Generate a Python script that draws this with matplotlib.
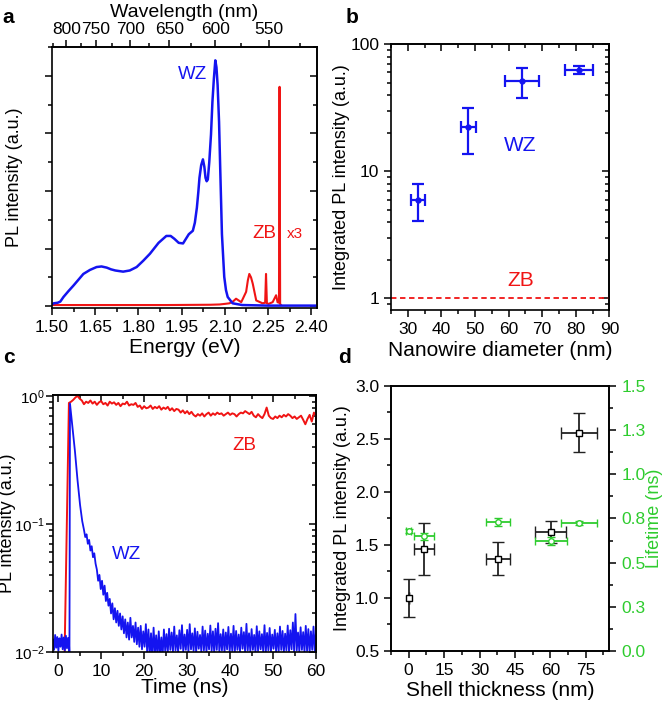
import numpy as np
import matplotlib
matplotlib.use('Agg')
import matplotlib.pyplot as plt
from matplotlib.ticker import FixedLocator, MultipleLocator, LogLocator, NullFormatter, FixedFormatter

plt.rcParams['font.family'] = ['Liberation Sans', 'DejaVu Sans']
plt.rcParams['font.size'] = 12.5
plt.rcParams['axes.linewidth'] = 1.2
plt.rcParams['mathtext.fontset'] = 'custom'
plt.rcParams['mathtext.rm'] = 'Liberation Sans'
plt.rcParams['mathtext.it'] = 'Liberation Sans:italic'
plt.rcParams['mathtext.bf'] = 'Liberation Sans:bold'

BLUE = '#1414f0'
RED = '#f01414'
GREEN = '#2ecc2e'
XL = 15     # horizontal axis labels (the original is a bit stretched sideways)
YL = 13     # vertical axis labels

# ---- panel a: PL spectra ----
wz_energy = [1.500, 1.506, 1.520, 1.529, 1.540, 1.557, 1.575, 1.592, 1.609, 1.632,
             1.655, 1.672, 1.690, 1.705, 1.720, 1.747, 1.770, 1.794, 1.817, 1.840,
             1.870, 1.897, 1.912, 1.925, 1.940, 1.955, 1.965, 1.975, 1.989, 1.996,
             2.003, 2.008, 2.012, 2.018, 2.024, 2.029, 2.033, 2.037, 2.041, 2.046,
             2.052, 2.057, 2.062, 2.067, 2.071, 2.075, 2.080, 2.084, 2.090, 2.098,
             2.104, 2.110, 2.127, 2.160, 2.250, 2.420]
wz_spec = [0.03, 0.05, 0.06, 0.08, 0.16, 0.26, 0.36, 0.46, 0.56, 0.63,
           0.68, 0.69, 0.67, 0.64, 0.62, 0.60, 0.62, 0.68, 0.79, 0.91,
           1.10, 1.22, 1.22, 1.17, 1.10, 1.09, 1.17, 1.25, 1.31, 1.45,
           1.71, 1.98, 2.23, 2.45, 2.55, 2.42, 2.23, 2.17, 2.20, 2.50,
           2.98, 3.55, 3.95, 4.27, 4.15, 3.84, 3.20, 2.40, 1.25, 0.51,
           0.28, 0.16, 0.05, 0.02, 0.01, 0.01]
zb_energy = [1.500, 1.700, 1.900, 2.050, 2.082, 2.100, 2.116, 2.128, 2.139, 2.157,
             2.174, 2.180, 2.185, 2.191, 2.197, 2.209, 2.231, 2.240, 2.243, 2.246,
             2.252, 2.266, 2.278, 2.283, 2.288, 2.290, 2.292, 2.295]
zb_spec = [0.02, 0.02, 0.02, 0.025, 0.03, 0.04, 0.05, 0.08, 0.13, 0.07,
           0.25, 0.45, 0.56, 0.50, 0.39, 0.10, 0.05, 0.06, 0.56, 0.05,
           0.04, 0.07, 0.19, 0.07, 0.06, 3.81, 0.04, 0.02]

# ---- panel b: integrated PL vs diameter ----
diameter = [33, 48, 64, 81]
diameter_err = [2.1, 2.2, 5.2, 4.1]
int_wz = [6.0, 22.5, 51.5, 63.0]
int_wz_err = [1.9, 8.8, 13.4, 4.8]
zb_level = 1.0

# ---- panel c: time resolved PL ----
wz_t_head = [-1.2, -0.95, -0.7, -0.45, -0.2, 0.05, 0.3, 0.55, 0.8, 1.05,
             1.3, 1.55, 1.8, 2.05, 2.3, 2.55, 2.62, 2.75, 3.3, 3.9, 4.5, 5.1, 5.6]
wz_I_head = [0.0125, 0.0104, 0.0136, 0.0108, 0.0131, 0.0102, 0.0128, 0.0110, 0.0137, 0.0105,
             0.0130, 0.0103, 0.0134, 0.0107, 0.0129, 0.0110, 0.009, 0.87, 0.58, 0.37, 0.22, 0.14, 0.105]
wz_t_tail = np.arange(6.0, 60.01, 0.3)
wz_I_tail = [0.090, 0.079, 0.083, 0.070, 0.075, 0.062, 0.067, 0.055, 0.059, 0.049,
             0.044, 0.036, 0.040, 0.031, 0.036, 0.028, 0.033, 0.025, 0.029, 0.023,
             0.026, 0.020, 0.024, 0.018, 0.022, 0.017, 0.021, 0.016, 0.020, 0.015,
             0.019, 0.014, 0.018, 0.013, 0.017, 0.0125, 0.0185, 0.013, 0.016, 0.012,
             0.017, 0.0115, 0.0155, 0.011, 0.016, 0.0105, 0.0145, 0.011, 0.0165, 0.010,
             0.015, 0.0095, 0.014, 0.009, 0.0155, 0.0098, 0.0135, 0.0092, 0.0145, 0.0096,
             0.013, 0.0093, 0.015, 0.0102, 0.0138, 0.0099, 0.0152, 0.0104, 0.0142, 0.0101,
             0.0158, 0.0103, 0.0135, 0.0100, 0.0148, 0.0106, 0.0162, 0.0101, 0.0137, 0.0104,
             0.0149, 0.0100, 0.0165, 0.0105, 0.0140, 0.0102, 0.0153, 0.0099, 0.0144, 0.0106,
             0.0136, 0.0101, 0.0158, 0.0103, 0.0147, 0.0100, 0.0139, 0.0105, 0.0161, 0.0102,
             0.0145, 0.0099, 0.0152, 0.0104, 0.0168, 0.0101, 0.0138, 0.0103, 0.0150, 0.0100,
             0.0142, 0.0105, 0.0157, 0.0101, 0.0139, 0.0102, 0.0160, 0.0100, 0.0146, 0.0104,
             0.0137, 0.0101, 0.0155, 0.0106, 0.0143, 0.0099, 0.0166, 0.0103, 0.0140, 0.0101,
             0.0151, 0.0104, 0.0136, 0.0100, 0.0159, 0.0102, 0.0145, 0.0105, 0.0138, 0.0101,
             0.0162, 0.0100, 0.0141, 0.0103, 0.0154, 0.0101, 0.0137, 0.0106, 0.0149, 0.0100,
             0.0140, 0.0102, 0.0158, 0.0104, 0.0146, 0.0100, 0.0139, 0.0103, 0.0161, 0.0101,
             0.0148, 0.0105, 0.0170, 0.0100, 0.0198, 0.0103, 0.0142, 0.0101, 0.0156, 0.0104,
             0.0143, 0.0100, 0.0160, 0.0102, 0.0151, 0.0099, 0.0145, 0.0104, 0.0158, 0.0101,
             0.0147]
zb_t_head = [1.2, 1.5, 2.5]
zb_I_head = [0.005, 0.01, 0.88]
zb_t_tail = np.arange(3.0, 60.01, 0.5)
zb_I_tail = [0.90, 0.93, 0.97, 1.00, 0.95, 0.92, 0.86, 0.90, 0.88, 0.92,
             0.87, 0.90, 0.85, 0.89, 0.91, 0.86, 0.88, 0.84, 0.90, 0.87,
             0.89, 0.85, 0.88, 0.83, 0.87, 0.86, 0.90, 0.84, 0.86, 0.85,
             0.88, 0.82, 0.84, 0.79, 0.83, 0.80, 0.81, 0.84, 0.79, 0.82,
             0.80, 0.83, 0.78, 0.81, 0.79, 0.82, 0.77, 0.80, 0.76, 0.79,
             0.78, 0.74, 0.77, 0.73, 0.76, 0.72, 0.75, 0.71, 0.69, 0.72,
             0.70, 0.73, 0.69, 0.72, 0.74, 0.70, 0.73, 0.71, 0.74, 0.72,
             0.73, 0.70, 0.72, 0.74, 0.71, 0.73, 0.72, 0.69, 0.72, 0.74,
             0.73, 0.76, 0.74, 0.72, 0.75, 0.70, 0.68, 0.72, 0.69, 0.67,
             0.72, 0.81, 0.70, 0.67, 0.66, 0.69, 0.67, 0.70, 0.68, 0.71,
             0.69, 0.72, 0.70, 0.67, 0.69, 0.66, 0.68, 0.70, 0.65, 0.60,
             0.66, 0.71, 0.63, 0.74, 0.70]

# ---- panel d: shell thickness ----
shell = [0, 6.5, 37.8, 60.1, 72.1]
shell_err = [0, 4.2, 5.1, 6.6, 7.8]
int_shell = [1.00, 1.46, 1.37, 1.62, 2.56]
int_shell_err = [0.18, 0.245, 0.155, 0.105, 0.185]
life_shell_err = [1.0, 4.4, 5.1, 6.8, 7.8]
lifetime = [0.680, 0.650, 0.729, 0.623, 0.722]
lifetime_err = [0.011, 0.02, 0.023, 0.023, 0.011]


def mirror_in(ax):
    # right/top ticks pointing inward, as in the original software
    r = ax.secondary_yaxis('right')
    t = ax.secondary_xaxis('top')
    for a in (r, t):
        a.tick_params(which='both', direction='in', labelright=False, labeltop=False, width=1.1)
        a.tick_params(which='major', length=5)
        a.tick_params(which='minor', length=3)
    return r, t


def style(ax):
    ax.tick_params(which='both', direction='out', top=False, right=False, width=1.1)
    ax.tick_params(which='major', length=5)
    ax.tick_params(which='minor', length=3)


fig = plt.figure(figsize=(6.66, 7.03), dpi=100)
ax_a = fig.add_axes([0.078, 0.562, 0.398, 0.371])
ax_b = fig.add_axes([0.587, 0.559, 0.328, 0.378])
ax_c = fig.add_axes([0.0796, 0.0725, 0.395, 0.366])
ax_d = fig.add_axes([0.587, 0.074, 0.328, 0.377])

# a
ax_a.plot(zb_energy, zb_spec, color=RED, lw=1.5)
ax_a.plot(wz_energy, wz_spec, color=BLUE, lw=1.8)
ax_a.set_xlim(1.50, 2.42)
ax_a.set_ylim(-0.03, 4.5)
ax_a.xaxis.set_major_locator(FixedLocator([1.50, 1.65, 1.80, 1.95, 2.10, 2.25, 2.40]))
ax_a.xaxis.set_minor_locator(MultipleLocator(0.075))
ax_a.xaxis.set_major_formatter(FixedFormatter(['1.50', '1.65', '1.80', '1.95', '2.10', '2.25', '2.40']))
ax_a.yaxis.set_major_locator(MultipleLocator(1))
ax_a.yaxis.set_minor_locator(MultipleLocator(0.5))
style(ax_a)
ax_a.tick_params(axis='y', labelleft=False)
ra = ax_a.secondary_yaxis('right')
ra.tick_params(which='both', direction='in', labelright=False, width=1.1)
ra.tick_params(which='major', length=5)
ra.tick_params(which='minor', length=3)
ra.yaxis.set_major_locator(MultipleLocator(1))
ra.yaxis.set_minor_locator(MultipleLocator(0.5))


def e2nm(x):
    x = np.asarray(x, float)
    with np.errstate(divide='ignore', invalid='ignore'):
        return 1239.84 / x


ta = ax_a.secondary_xaxis('top', functions=(e2nm, e2nm))
ta.xaxis.set_major_locator(FixedLocator([800, 750, 700, 650, 600, 550]))
ta.xaxis.set_minor_locator(FixedLocator([825, 775, 725, 675, 625, 575, 525]))
ta.tick_params(which='both', direction='out', width=1.1)
ta.tick_params(which='major', length=5, pad=2)
ta.tick_params(which='minor', length=3)
ta.set_xlabel('Wavelength (nm)', fontsize=XL - 1, labelpad=4)
ax_a.set_xlabel('Energy (eV)', fontsize=XL)
ax_a.set_ylabel('PL intensity (a.u.)', fontsize=YL)
ax_a.yaxis.set_label_coords(-0.11, 0.5)
ax_a.xaxis.set_label_coords(0.5, -0.115)
ax_a.text(1.988, 4.03, 'WZ', color=BLUE, fontsize=13.5, ha='center', va='center')
ax_a.text(2.237, 1.26, 'ZB', color=RED, fontsize=13.5, ha='center', va='center')
ax_a.text(2.344, 1.26, 'x3', color=RED, fontsize=11, ha='center', va='center')

# b
ax_b.errorbar(diameter, int_wz, xerr=diameter_err, yerr=int_wz_err, fmt='o', ms=3.5,
              color=BLUE, ecolor=BLUE, elinewidth=1.6, capsize=4, capthick=1.6)
ax_b.axhline(zb_level, color=RED, ls=(0, (3, 2)), lw=1.3)
ax_b.set_yscale('log')
ax_b.set_xlim(25, 90)
ax_b.set_ylim(0.81, 100)
ax_b.xaxis.set_major_locator(MultipleLocator(10))
ax_b.xaxis.set_minor_locator(MultipleLocator(5))
ax_b.yaxis.set_major_locator(FixedLocator([1, 10, 100]))
ax_b.yaxis.set_major_formatter(FixedFormatter(['1', '10', '100']))
ax_b.yaxis.set_minor_locator(LogLocator(subs=np.arange(2, 10)))
ax_b.yaxis.set_minor_formatter(NullFormatter())
style(ax_b)
rb, tb = mirror_in(ax_b)
rb.yaxis.set_major_locator(FixedLocator([1, 10, 100]))
rb.yaxis.set_minor_locator(LogLocator(subs=np.arange(2, 10)))
rb.yaxis.set_minor_formatter(NullFormatter())
tb.xaxis.set_major_locator(MultipleLocator(10))
tb.xaxis.set_minor_locator(MultipleLocator(5))
ax_b.set_xlabel('Nanowire diameter (nm)', fontsize=XL)
ax_b.set_ylabel('Integrated PL intensity (a.u.)', fontsize=YL)
ax_b.yaxis.set_label_coords(-0.186, 0.5)
ax_b.xaxis.set_label_coords(0.5, -0.115)
ax_b.text(63.5, 15.9, 'WZ', color=BLUE, fontsize=15, ha='center', va='center')
ax_b.text(63.6, 1.39, 'ZB', color=RED, fontsize=15, ha='center', va='center')

# c
ax_c.plot(zb_t_head + list(zb_t_tail), zb_I_head + zb_I_tail, color=RED, lw=1.4)
ax_c.plot(wz_t_head + list(wz_t_tail), wz_I_head + wz_I_tail, color=BLUE, lw=1.3)
ax_c.set_yscale('log')
ax_c.set_xlim(-1.2, 60)
ax_c.set_ylim(0.01, 1.02)
ax_c.xaxis.set_major_locator(MultipleLocator(10))
ax_c.xaxis.set_minor_locator(MultipleLocator(5))
ax_c.yaxis.set_major_locator(FixedLocator([0.01, 0.1, 1]))
ax_c.yaxis.set_major_formatter(FixedFormatter([r'$10^{-2}$', r'$10^{-1}$', r'$10^{0}$']))
ax_c.yaxis.set_minor_locator(LogLocator(subs=np.arange(2, 10)))
ax_c.yaxis.set_minor_formatter(NullFormatter())
style(ax_c)
ax_c.tick_params(axis='y', labelsize=11, pad=1)
rc, tc = mirror_in(ax_c)
rc.yaxis.set_major_locator(FixedLocator([0.01, 0.1, 1]))
rc.yaxis.set_minor_locator(LogLocator(subs=np.arange(2, 10)))
rc.yaxis.set_minor_formatter(NullFormatter())
tc.xaxis.set_major_locator(MultipleLocator(10))
tc.xaxis.set_minor_locator(MultipleLocator(5))
ax_c.set_xlabel('Time (ns)', fontsize=XL)
ax_c.set_ylabel('PL intensity (a.u.)', fontsize=YL)
ax_c.yaxis.set_label_coords(-0.142, 0.5)
ax_c.xaxis.set_label_coords(0.5, -0.1)
ax_c.text(43.4, 0.41, 'ZB', color=RED, fontsize=13.5, ha='center', va='center')
ax_c.text(15.8, 0.058, 'WZ', color=BLUE, fontsize=13.5, ha='center', va='center')

# d
ax_d.errorbar(shell, int_shell, xerr=shell_err, yerr=int_shell_err, fmt='s', ms=4,
              mfc='white', mec='black', mew=1.0, color='black', ecolor='#222222',
              elinewidth=1.3, capsize=4, capthick=1.3)
ax_d.set_xlim(-7.5, 85)
ax_d.set_ylim(0.5, 3.0)
ax_d.xaxis.set_major_locator(MultipleLocator(15))
ax_d.xaxis.set_minor_locator(MultipleLocator(7.5))
ax_d.set_yticks([0.5, 1.0, 1.5, 2.0, 2.5, 3.0])
ax_d.set_yticklabels(['0.5', '1.0', '1.5', '2.0', '2.5', '3.0'])
ax_d.yaxis.set_minor_locator(MultipleLocator(0.25))
style(ax_d)
ax_d2 = ax_d.twinx()
ax_d2.errorbar(shell, lifetime, xerr=life_shell_err, yerr=lifetime_err, fmt='o', ms=4,
               mfc='white', mec=GREEN, mew=1.0, color=GREEN, ecolor=GREEN,
               elinewidth=1.3, capsize=3, capthick=1.3)
ax_d2.set_ylim(0.0, 1.5)
ax_d2.set_yticks([0.0, 0.25, 0.5, 0.75, 1.0, 1.25, 1.5])
ax_d2.set_yticklabels(['0.0', '0.3', '0.5', '0.8', '1.0', '1.3', '1.5'])
ax_d2.yaxis.set_minor_locator(MultipleLocator(0.125))
ax_d2.tick_params(which='both', direction='out', width=1.1, labelcolor=GREEN)
ax_d2.tick_params(which='major', length=5)
ax_d2.tick_params(which='minor', length=3)
ax_d.set_xlabel('Shell thickness (nm)', fontsize=XL)
ax_d.set_ylabel('Integrated PL intensity (a.u.)', fontsize=YL)
ax_d.yaxis.set_label_coords(-0.182, 0.5)
ax_d.xaxis.set_label_coords(0.5, -0.112)
ax_d2.set_ylabel('Lifetime (ns)', fontsize=YL, color=GREEN)
ax_d2.yaxis.set_label_coords(1.169, 0.5)

# panel letters
for lbl, x, y in [('a', 0.004, 0.988), ('b', 0.519, 0.988), ('c', 0.004, 0.505), ('d', 0.507, 0.505)]:
    fig.text(x, y, lbl, fontsize=15, fontweight='bold', ha='left', va='top')

fig.savefig('out.png', dpi=100)
